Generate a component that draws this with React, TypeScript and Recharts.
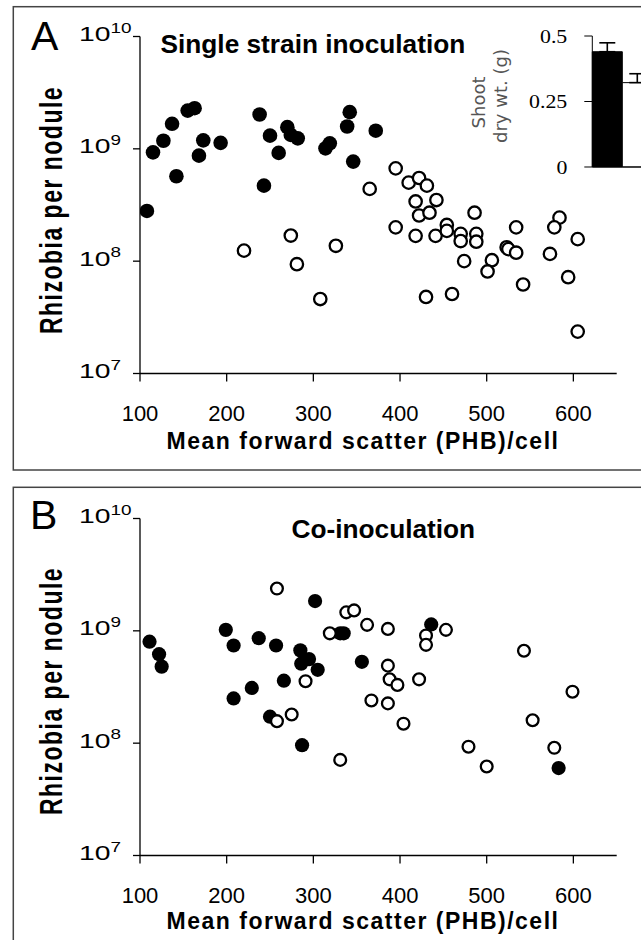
import React from 'react';
import { Bar, BarChart, Cell, ErrorBar, Scatter, ScatterChart, XAxis, YAxis } from 'recharts';

const SANS = 'Liberation Sans, Roboto, sans-serif';
const SERIF = 'Liberation Serif, Times New Roman, serif';
const DEJAVU = 'DejaVu Sans, sans-serif';

const xTicks = [100, 200, 300, 400, 500, 600];
const yTicks = [1e7, 1e8, 1e9, 1e10];

// A: single strain inoculation, [forward scatter, rhizobia per nodule]
const singleFilled: [number, number][] = [
  [108, 2.8e8], [115, 9.3e8], [127, 1.18e9], [137, 1.67e9], [155, 2.19e9], [163, 2.3e9],
  [142, 5.7e8], [168, 8.7e8], [173, 1.19e9], [193, 1.13e9], [238, 2.02e9], [250, 1.31e9],
  [260, 9.2e8], [243, 4.7e8], [270, 1.56e9], [274, 1.33e9], [282, 1.24e9], [314, 1.01e9],
  [319, 1.12e9], [342, 2.12e9], [339, 1.58e9], [346, 7.7e8], [372, 1.45e9],
];
const singleOpen: [number, number][] = [
  [220, 1.24e8], [274, 1.69e8], [281, 9.4e7], [308, 4.6e7], [326, 1.37e8], [365, 4.4e8],
  [395, 6.7e8], [395, 2.0e8], [410, 5.0e8], [422, 5.5e8], [431, 4.7e8], [418, 3.4e8],
  [442, 3.5e8], [422, 2.55e8], [434, 2.7e8], [418, 1.68e8], [441, 1.68e8], [454, 2.1e8],
  [454, 1.86e8], [470, 1.75e8], [470, 1.51e8], [488, 1.75e8], [488, 1.49e8], [486, 2.7e8],
  [474, 1.0e8], [506, 1.02e8], [501, 8.1e7], [534, 2.0e8], [523, 1.33e8], [525, 1.28e8],
  [534, 1.19e8], [573, 1.16e8], [584, 2.44e8], [578, 2.0e8], [605, 1.57e8], [542, 6.2e7],
  [594, 7.2e7], [430, 4.8e7], [460, 5.1e7], [605, 2.36e7],
];

// B: co-inoculation
const coFilled: [number, number][] = [
  [111, 8.0e8], [122, 6.2e8], [125, 4.8e8], [199, 1.02e9], [208, 7.4e8], [208, 2.5e8],
  [237, 8.6e8], [229, 3.1e8], [257, 7.4e8], [250, 1.72e8], [266, 3.6e8], [285, 6.7e8],
  [295, 5.6e8], [286, 5.1e8], [305, 4.5e8], [287, 9.6e7], [302, 1.84e9], [331, 9.5e8],
  [335, 9.5e8], [356, 5.3e8], [436, 1.14e9], [583, 6.0e7],
];
const coOpen: [number, number][] = [
  [258, 2.38e9], [338, 1.46e9], [347, 1.52e9], [319, 9.5e8], [362, 1.13e9], [291, 3.56e8],
  [275, 1.8e8], [258, 1.57e8], [331, 7.1e7], [367, 2.4e8], [386, 1.04e9], [430, 9.1e8],
  [430, 7.5e8], [453, 1.02e9], [543, 6.65e8], [386, 4.9e8], [388, 3.7e8], [397, 3.3e8],
  [422, 3.7e8], [386, 2.26e8], [404, 1.49e8], [599, 2.87e8], [553, 1.6e8], [479, 9.3e7],
  [500, 6.2e7], [578, 9.1e7],
];

// inset: shoot dry wt. (g)
const insetGroups = ['filled', 'open'];
const insetMeans = [0.44, 0.322];
const insetErrors = [0.034, 0.034];
const insetTicks = [0, 0.25, 0.5];

const AX = { stroke: '#000', strokeWidth: 1.3 };

const toPoints = (pts: [number, number][]) => pts.map(([x, y]) => ({ x, y }));

const PowerTick = (p: any) => {
  const exp = Math.round(Math.log10(p.payload.value));
  return (
    <text transform={`translate(${p.x - 54},${p.y + 4.5}) scale(1.35,1)`} style={{ fontFamily: SANS }} fontSize={21} fill="#000">
      10<tspan fontSize={14} dy={-8.5}>{exp}</tspan>
    </text>
  );
};

const XTick = (p: any) => (
  <text x={p.x} y={p.y + 39} textAnchor="middle" style={{ fontFamily: SANS }} fontSize={22} fill="#000">
    {p.payload.value}
  </text>
);

function Panel({ filled, open, top, r, ro }: { filled: [number, number][]; open: [number, number][]; top: number; r: number; ro: number }) {
  return (
    <div style={{ position: 'absolute', left: 0, top }}>
      <ScatterChart width={641} height={480} margin={{ top: 36.5, right: 24.3, bottom: 46.5, left: 0 }}>
        <XAxis type="number" dataKey="x" domain={[100, 650]} ticks={xTicks} interval={0} allowDataOverflow
          height={60} tickSize={8} tickMargin={0} tick={XTick} axisLine={AX} tickLine={AX} />
        <YAxis type="number" dataKey="y" scale="log" domain={[1e7, 1e10]} ticks={yTicks} interval={0} allowDataOverflow
          width={140} tickSize={7} tickMargin={0} tick={PowerTick} axisLine={AX} tickLine={AX} />
        <Scatter data={toPoints(filled)} isAnimationActive={false}
          shape={(s: any) => <circle cx={s.cx} cy={s.cy} r={r} fill="#000" />} />
        <Scatter data={toPoints(open)} isAnimationActive={false}
          shape={(s: any) => <circle cx={s.cx} cy={s.cy} r={ro} fill="#fff" stroke="#000" strokeWidth={2.3} />} />
      </ScatterChart>
    </div>
  );
}

const InsetTick = (p: any) => (
  <text transform={`translate(${p.x},${p.y + 7}) scale(1.15,1)`} textAnchor="end" style={{ fontFamily: SERIF }} fontSize={19} fill="#000">
    {p.payload.value}
  </text>
);

function Inset() {
  const data = insetGroups.map((g, i) => ({ g, v: insetMeans[i], err: [0, insetErrors[i]] }));
  return (
    <div style={{ position: 'absolute', left: 500, top: 25.7 }}>
      <BarChart width={152.3} height={151} data={data} margin={{ top: 10, right: 0, bottom: 0, left: 0 }}
        barCategoryGap={0} barGap={0}>
        <XAxis dataKey="g" tick={false} tickLine={false} axisLine={{ stroke: '#000', strokeWidth: 1 }} height={10} />
        <YAxis type="number" domain={[0, 0.5]} ticks={insetTicks} interval={0} width={92.3} tickSize={8} tickMargin={17}
          tick={InsetTick} axisLine={{ stroke: '#000', strokeWidth: 1 }} tickLine={{ stroke: '#000', strokeWidth: 1 }} />
        <Bar dataKey="v" isAnimationActive={false} stroke="#000" strokeWidth={1}>
          {data.map((d, i) => <Cell key={d.g} fill={i === 0 ? '#000' : '#fff'} />)}
          <ErrorBar dataKey="err" direction="y" width={8} stroke="#000" strokeWidth={1.6} />
        </Bar>
      </BarChart>
    </div>
  );
}

function YTitle({ cy }: { cy: number }) {
  return (
    <text transform={`translate(61.5,${cy}) scale(1.35,1) rotate(-90)`} textAnchor="middle" style={{ fontFamily: SANS }}
      fontWeight="bold" fontSize={23} letterSpacing={1.5} fill="#000">
      Rhizobia per nodule
    </text>
  );
}

function XTitle({ y }: { y: number }) {
  return (
    <text x={363} y={y} textAnchor="middle" style={{ fontFamily: SANS }} fontWeight="bold" fontSize={23} letterSpacing={1.5} fill="#000">
      Mean forward scatter (PHB)/cell
    </text>
  );
}

export default function App() {
  return (
    <div style={{ position: 'absolute', left: 0, top: 0, width: 641, height: 940, overflow: 'hidden', background: '#fff' }}>
      <svg width={641} height={940} style={{ position: 'absolute', left: 0, top: 0 }}>
        <rect x={13.3} y={6.7} width={700} height={463.3} fill="none" stroke="#444" strokeWidth={1.5} />
        <rect x={13.3} y={487.3} width={700} height={500} fill="none" stroke="#444" strokeWidth={1.5} />
        <text x={31} y={50} style={{ fontFamily: SANS }} fontSize={41} fill="#000">A</text>
        <text x={30} y={529} style={{ fontFamily: SANS }} fontSize={41} fill="#000">B</text>
        <text transform="translate(160.5,53) scale(1.05,1)" style={{ fontFamily: SANS }} fontWeight="bold" fontSize={25} fill="#000">
          Single strain inoculation
        </text>
        <text transform="translate(383.3,538) scale(1.05,1)" textAnchor="middle" style={{ fontFamily: SANS }} fontWeight="bold" fontSize={25} fill="#000">
          Co-inoculation
        </text>
        <YTitle cy={210} />
        <YTitle cy={691} />
        <XTitle y={449} />
        <XTitle y={929} />
        <text transform="translate(485,102.5) rotate(-90)" textAnchor="middle" style={{ fontFamily: DEJAVU }} fontSize={18} fill="#555">Shoot</text>
        <text transform="translate(507,96) rotate(-90)" textAnchor="middle" style={{ fontFamily: DEJAVU }} fontSize={18} fill="#555">dry wt. (g)</text>
      </svg>
      <Panel filled={singleFilled} open={singleOpen} top={0} r={7.3} ro={6.2} />
      <Panel filled={coFilled} open={coOpen} top={481.5} r={7.1} ro={5.9} />
      <Inset />
    </div>
  );
}
